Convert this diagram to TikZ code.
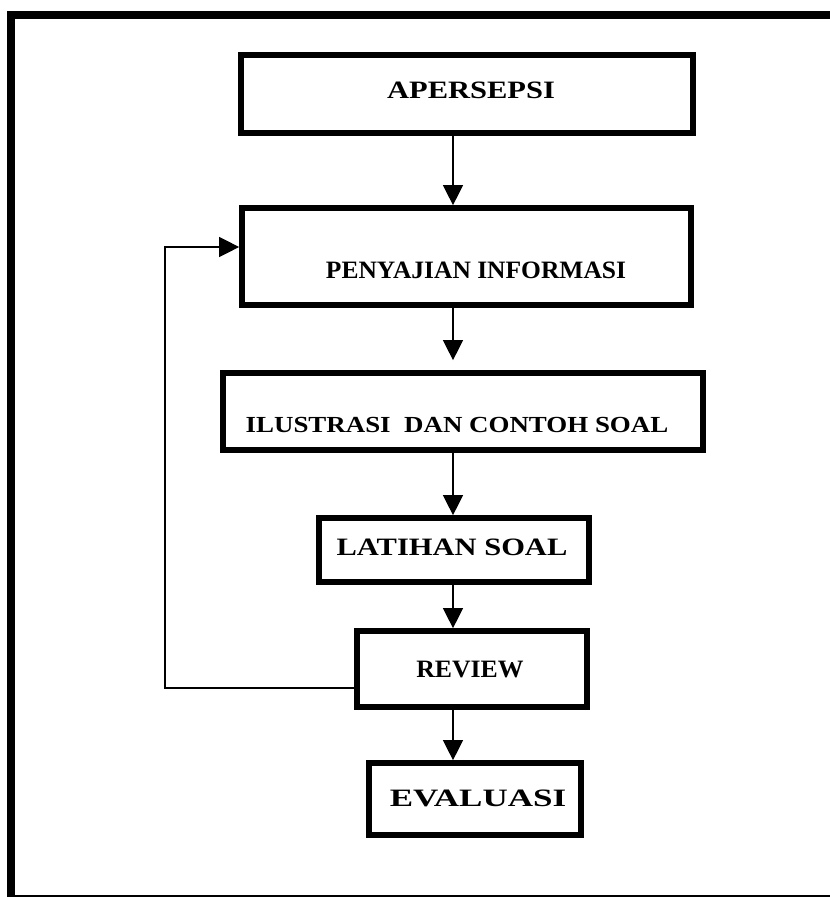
\documentclass[tikz,border=0pt]{standalone}
\usepackage{fontspec}
\usepackage{graphicx}
\setmainfont{Liberation Serif}
\usetikzlibrary{arrows.meta}
\begin{document}
\begin{tikzpicture}[x=1pt,y=-1pt,
  box/.style={draw,line width=5.7pt,inner sep=0pt},
  lbl/.style={font=\bfseries\fontsize{25}{30}\selectfont,inner sep=0pt,anchor=base},
  arr/.style={line width=1.3pt,-{Triangle[length=20pt,width=20pt]}}]
\useasboundingbox (0,0) rectangle (830,897);
% outer frame
\draw[line width=8pt] (11,900) -- (11,15) -- (840,15);
\draw[line width=1.2pt] (7,896) -- (840,896);
% boxes
\node[box,minimum width=452pt,minimum height=78pt] (b1) at (467,94) {};
\node[box,minimum width=449pt,minimum height=97pt] (b2) at (466.5,256.5) {};
\node[box,minimum width=480pt,minimum height=77pt] (b3) at (463,411.5) {};
\node[box,minimum width=270pt,minimum height=64pt] (b4) at (454,550) {};
\node[box,minimum width=230pt,minimum height=76pt] (b5) at (472,669) {};
\node[box,minimum width=212pt,minimum height=72pt] (b6) at (475,799) {};
% labels
\node[lbl] (t1) at (471,98) {\scalebox{1.22}[1]{APERSEPSI}};
\node[lbl] (t2) at (476,278) {\scalebox{1.02}[1]{PENYAJIAN INFORMASI}};
\node[lbl,font=\bfseries\fontsize{23}{28}\selectfont] (t3) at (457,432) {\scalebox{1.17}[1]{ILUSTRASI\ \ DAN CONTOH SOAL}};
\node[lbl] (t4) at (452,555) {\scalebox{1.22}[1]{LATIHAN SOAL}};
\node[lbl] (t5) at (470,677) {\scalebox{1.03}[1]{REVIEW}};
\node[lbl] (t6) at (478,806) {\scalebox{1.4}[1]{EVALUASI}};
% connectors
\coordinate (ax) at (453,0);
\coordinate (fb) at (165,688);
\coordinate (ft) at (165,247);
\draw[arr] (b1.south -| ax) -- (b2.north -| ax);
\draw[arr,shorten >=10pt] (b2.south -| ax) -- (b3.north -| ax);
\draw[arr] (b3.south -| ax) -- (b4.north -| ax);
\draw[arr] (b4.south -| ax) -- (b5.north -| ax);
\draw[arr] (b5.south -| ax) -- (b6.north -| ax);
\draw[arr] (b5.west |- fb) -- (fb) -- (ft) -- (b2.west |- ft);
\end{tikzpicture}
\end{document}
